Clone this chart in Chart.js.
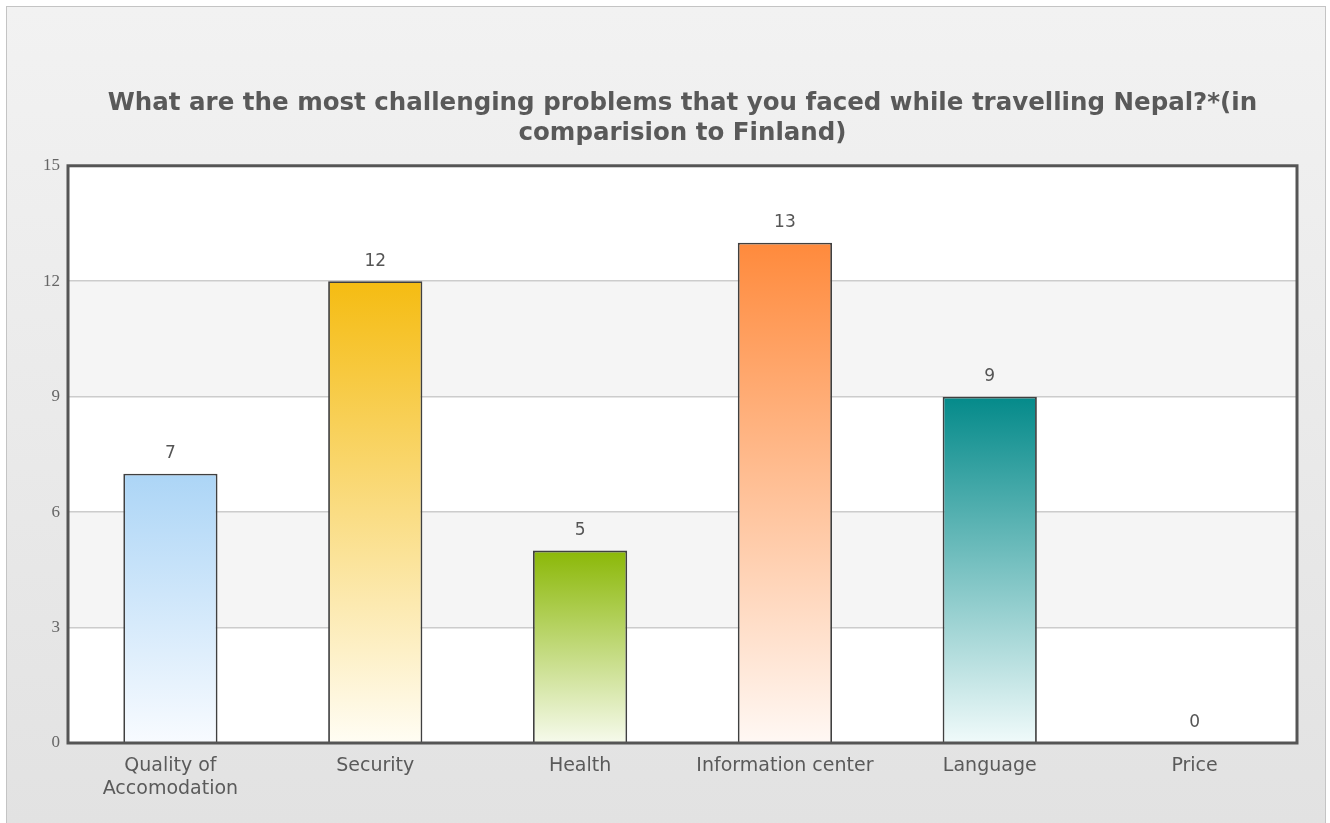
<!DOCTYPE html>
<html>
<head>
<meta charset="utf-8">
<script src="https://cdn.jsdelivr.net/npm/chart.js@4.4.1/dist/chart.umd.min.js"></script>
<style>
  html, body { margin: 0; padding: 0; width: 1330px; height: 823px; overflow: hidden; background: #fff; }
  .frame {
    position: absolute; left: 6px; top: 6px; width: 1320px; height: 820px;
    border: 1px solid #c4c4c4; box-sizing: border-box;
    background: linear-gradient(#f2f2f2, #e2e2e2);
  }
  canvas { position: absolute; left: 0; top: 0; }
</style>
</head>
<body>
<div class="frame"></div>
<canvas id="bar-chart" width="1330" height="823"></canvas>
<script>
const categories = [
  ['Quality of', 'Accomodation'],
  'Security',
  'Health',
  'Information center',
  'Language',
  'Price',
];
const answers = [7, 12, 5, 13, 9, 0];
const topColors = ['#acd5f6', '#f5bc12', '#8bb807', '#ff8a3c', '#048a8a', '#bbbbbb'];
const bottomColors = ['#f8fbff', '#fffdf4', '#f6faec', '#fff8f4', '#f0fafa', '#ffffff'];
const yTicks = [0, 3, 6, 9, 12, 15];

const titleLines = [
  'What are the most challenging problems that you faced while travelling Nepal?*(in',
  'comparision to Finland)',
];

// vertical fade from the bar colour at its top down to almost white at the base
function barGradient(context) {
  const chart = context.chart;
  const i = context.dataIndex;
  const y = chart.scales.y;
  if (!chart.chartArea || !y) return topColors[i];
  const top = y.getPixelForValue(answers[i]);
  const base = y.getPixelForValue(0);
  if (!isFinite(top) || !isFinite(base) || top === base) return topColors[i];
  const g = chart.ctx.createLinearGradient(0, top, 0, base);
  g.addColorStop(0, topColors[i]);
  g.addColorStop(1, bottomColors[i]);
  return g;
}

const plotBands = {
  id: 'plotBands',
  beforeDraw(chart) {
    const { ctx, chartArea: a, scales: { y } } = chart;
    ctx.save();
    for (let k = 0; k < yTicks.length - 1; k++) {
      const y0 = y.getPixelForValue(yTicks[k]);
      const y1 = y.getPixelForValue(yTicks[k + 1]);
      ctx.fillStyle = k % 2 === 0 ? '#ffffff' : '#f5f5f5';
      ctx.fillRect(a.left, y1, a.right - a.left, y0 - y1);
    }
    ctx.restore();
  },
  afterDraw(chart) {
    const { ctx, chartArea: a } = chart;
    ctx.save();
    ctx.strokeStyle = '#555555';
    ctx.lineWidth = 3;
    ctx.strokeRect(a.left, a.top, a.right - a.left, a.bottom - a.top);
    ctx.restore();
  },
};

const valueLabels = {
  id: 'valueLabels',
  afterDatasetsDraw(chart) {
    const { ctx } = chart;
    const meta = chart.getDatasetMeta(0);
    ctx.save();
    ctx.font = '17px "DejaVu Sans"';
    ctx.fillStyle = '#555555';
    ctx.textAlign = 'center';
    ctx.textBaseline = 'middle';
    meta.data.forEach((bar, i) => {
      ctx.fillText(String(answers[i]), bar.x, bar.y - 20);
    });
    ctx.restore();
  },
};

new Chart(document.getElementById('bar-chart'), {
  type: 'bar',
  data: {
    labels: categories,
    datasets: [{
      data: answers,
      backgroundColor: barGradient,
      borderColor: '#404040',
      borderWidth: 1.8,
      barPercentage: 0.46,
      categoryPercentage: 1,
    }],
  },
  options: {
    responsive: false,
    animation: false,
    layout: {
      padding: { left: 42, right: 33, top: 89, bottom: 20 },
    },
    scales: {
      x: {
        grid: { display: false, drawTicks: false },
        border: { display: false },
        ticks: {
          color: '#5a5a5a',
          font: { family: '"DejaVu Sans"', size: 19, lineHeight: 1.2 },
          padding: 12,
          maxRotation: 0,
        },
        afterFit: (scale) => { scale.height = 60; },
      },
      y: {
        min: 0,
        max: 15,
        afterBuildTicks: (scale) => { scale.ticks = yTicks.map((v) => ({ value: v })); },
        grid: { color: '#cccccc', lineWidth: 1.5, drawTicks: false },
        border: { display: false },
        ticks: {
          color: '#666666',
          font: { family: '"Liberation Serif"', size: 17 },
          padding: 8,
        },
        afterFit: (scale) => { scale.width = 26; },
      },
    },
    plugins: {
      legend: { display: false },
      tooltip: { enabled: false },
      title: {
        display: true,
        text: titleLines,
        fullSize: false,
        color: '#595959',
        font: { family: '"DejaVu Sans"', size: 24.5, weight: 'bold', lineHeight: 1.22 },
        padding: { top: 0, bottom: 17 },
      },
    },
  },
  plugins: [plotBands, valueLabels],
});
</script>
</body>
</html>
